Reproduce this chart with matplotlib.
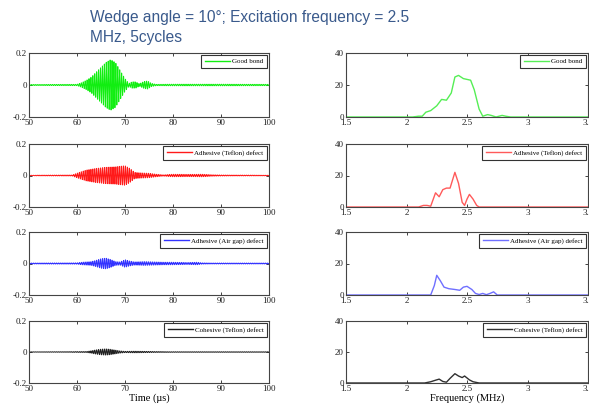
import numpy as np
import matplotlib

matplotlib.use("Agg")
import matplotlib.pyplot as plt

# --- time-domain envelopes (time in us, amplitude) ---
CARRIER_MHZ = 2.5  # excitation frequency from the title

good_env_t = [50, 60, 61, 62, 63, 64, 65, 66, 67, 68, 69, 70, 70.8, 71.5, 72.2, 73, 74, 74.7, 75.5, 76.5, 80, 90, 100]
good_env_a = [0.003, 0.004, 0.015, 0.03, 0.05, 0.08, 0.11, 0.14, 0.158, 0.14, 0.09, 0.04, 0.01, 0.02, 0.02, 0.008, 0.022, 0.025, 0.01, 0.004, 0.005, 0.005, 0.004]

red_env_t = [50, 59, 60.5, 62, 64, 66, 68, 70, 71, 72, 73.5, 75, 76.5, 78, 80, 83, 86, 88, 90, 100]
red_env_a = [0.002, 0.003, 0.02, 0.035, 0.045, 0.052, 0.055, 0.062, 0.045, 0.02, 0.016, 0.014, 0.008, 0.004, 0.008, 0.007, 0.008, 0.005, 0.003, 0.002]

blue_env_t = [50, 60, 61, 63, 64, 65, 66, 67, 68, 69, 70, 71, 72, 74, 76, 78, 80, 83, 85, 86, 88, 92, 100]
blue_env_a = [0.003, 0.004, 0.008, 0.012, 0.02, 0.03, 0.034, 0.025, 0.012, 0.01, 0.024, 0.015, 0.01, 0.012, 0.01, 0.008, 0.008, 0.006, 0.008, 0.004, 0.003, 0.003, 0.003]

black_env_t = [50, 58, 62, 63, 64, 65, 66, 67, 68, 69, 70, 72, 74, 76, 80, 100]
black_env_a = [0.001, 0.002, 0.003, 0.008, 0.014, 0.018, 0.02, 0.017, 0.012, 0.007, 0.004, 0.005, 0.004, 0.003, 0.002, 0.002]

# --- spectra (frequency MHz, magnitude) ---
good_f = [1.5, 2.05, 2.1, 2.13, 2.16, 2.2, 2.25, 2.29, 2.33, 2.37, 2.4, 2.43, 2.47, 2.5, 2.53, 2.56, 2.6, 2.63, 2.67, 2.7, 2.74, 2.79, 2.82, 2.86, 3.5]
good_m = [0, 0, 0.5, 0.5, 3, 4, 7, 11, 10.5, 15, 25, 26, 24, 23.5, 23, 17, 5, 0.5, 1.5, 1, 0, 1, 0.5, 0, 0]

red_f = [1.5, 2.1, 2.14, 2.17, 2.2, 2.24, 2.27, 2.3, 2.33, 2.36, 2.38, 2.4, 2.43, 2.46, 2.48, 2.5, 2.52, 2.55, 2.58, 2.6, 3.5]
red_m = [0, 0, 1, 1, 0.5, 9, 6.5, 11, 12, 12, 17, 22, 15, 3, 1, 5, 8, 5, 1, 0, 0]

blue_f = [1.5, 2.2, 2.23, 2.25, 2.28, 2.31, 2.35, 2.4, 2.44, 2.47, 2.5, 2.54, 2.57, 2.6, 2.63, 2.66, 2.69, 2.72, 2.75, 3.5]
blue_m = [0, 0, 6, 12.5, 9, 5, 4, 3.5, 3, 5, 5.5, 3.5, 1, 0.3, 1, 0.2, 1, 2, 0, 0]

black_f = [1.5, 2.15, 2.2, 2.24, 2.27, 2.3, 2.33, 2.36, 2.4, 2.43, 2.46, 2.48, 2.52, 2.55, 2.6, 3.5]
black_m = [0, 0, 0.8, 1.8, 2.5, 1, 0.5, 3, 6, 4.5, 3.5, 4.5, 2, 0.8, 0, 0]

labels = ["Good bond", "Adhesive (Teflon) defect", "Adhesive (Air gap) defect", "Cohesive (Teflon) defect"]
time_colors = ["#11ee11", "#ff1a1a", "#3333ff", "#202020"]
spec_colors = ["#55ee55", "#ff5a5a", "#6f6fff", "#303030"]

time_t = np.arange(50, 100.0001, 0.01)
carrier = np.sin(2 * np.pi * CARRIER_MHZ * time_t)

envs = [(good_env_t, good_env_a), (red_env_t, red_env_a), (blue_env_t, blue_env_a), (black_env_t, black_env_a)]
specs = [(good_f, good_m), (red_f, red_m), (blue_f, blue_m), (black_f, black_m)]

W, H = 589, 408
rows = [(53, 117), (144, 207), (232, 295), (321, 383)]
left_x = (29, 269)
right_x = (346, 588)

serif = "Liberation Serif"
fig = plt.figure(figsize=(W / 100, H / 100), dpi=100)


def style(ax):
    for s in ax.spines.values():
        s.set_color("#444444")
        s.set_linewidth(0.8)
    ax.tick_params(direction="in", top=True, right=True, length=2, width=0.6,
                   labelsize=6.5, pad=1.5, colors="#222222")
    for lab in ax.get_xticklabels() + ax.get_yticklabels():
        lab.set_family(serif)


def add_legend(ax):
    leg = ax.legend(loc="upper right", prop={"family": serif, "size": 5}, fancybox=False,
                    edgecolor="#333333", framealpha=1, borderpad=0.55, handlelength=3.6,
                    handletextpad=0.3, borderaxespad=0.25)
    leg.get_frame().set_linewidth(0.8)
    for ln in leg.get_lines():
        ln.set_linewidth(1.0)


for i, (top, bot) in enumerate(rows):
    # time trace
    ax = fig.add_axes([left_x[0] / W, 1 - bot / H, (left_x[1] - left_x[0]) / W, (bot - top) / H])
    et, ea = envs[i]
    sig = np.interp(time_t, et, ea) * carrier
    ax.plot(time_t, sig, color=time_colors[i], lw=0.7, label=labels[i])
    ax.set_xlim(50, 100)
    ax.set_ylim(-0.2, 0.2)
    ax.set_xticks([50, 60, 70, 80, 90, 100])
    ax.set_yticks([-0.2, 0, 0.2])
    ax.set_yticklabels(["-0.2", "0", "0.2"])
    style(ax)
    add_legend(ax)
    if i == 3:
        ax.set_xlabel("Time (\u00b5s)", family=serif, fontsize=7.5, labelpad=0)

    # spectrum
    ax = fig.add_axes([right_x[0] / W, 1 - bot / H, (right_x[1] - right_x[0]) / W, (bot - top) / H])
    f, m = specs[i]
    ax.plot(f, m, color=spec_colors[i], lw=1.0, label=labels[i])
    ax.set_xlim(1.5, 3.5)
    ax.set_ylim(0, 40)
    ax.set_xticks([1.5, 2, 2.5, 3, 3.5])
    ax.set_xticklabels(["1.5", "2", "2.5", "3", "3.5"])
    ax.set_yticks([0, 20, 40])
    style(ax)
    add_legend(ax)
    if i == 3:
        ax.set_xlabel("Frequency (MHz)", family=serif, fontsize=7.5, labelpad=0)

fig.text(90 / W, 1 - 10 / H, "Wedge angle = 10\u00b0; Excitation frequency = 2.5\nMHz, 5cycles",
         ha="left", va="top", fontsize=11.2, family="Liberation Sans", color="#3a5a8c",
         linespacing=1.4)

fig.savefig("out.png", dpi=100)
